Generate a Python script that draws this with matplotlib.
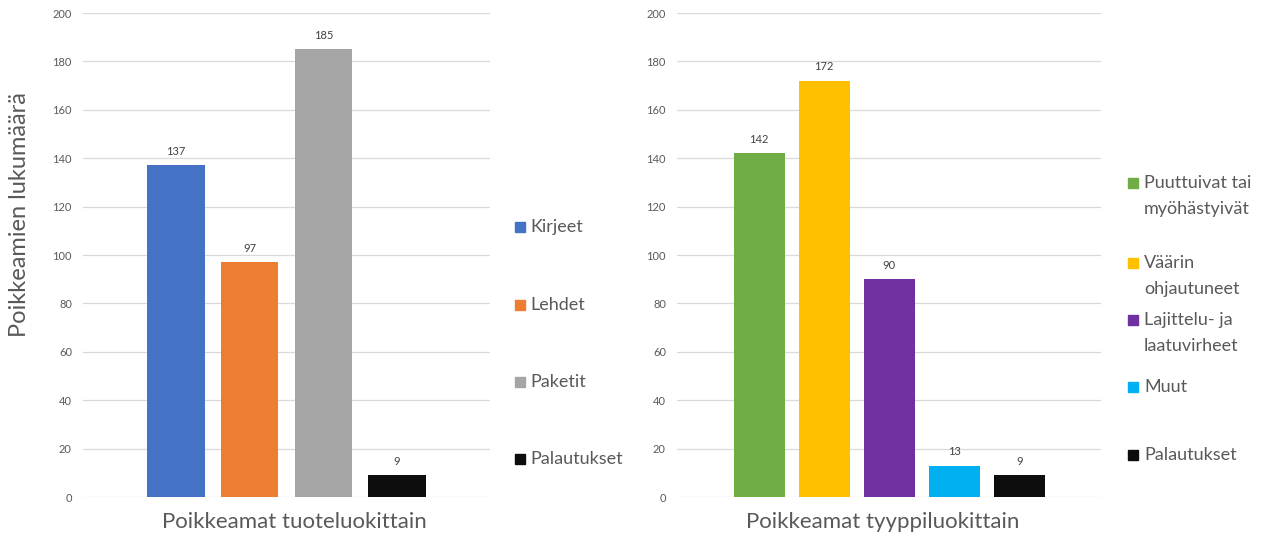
import matplotlib
matplotlib.use("Agg")
import matplotlib.pyplot as plt
from matplotlib.patches import Rectangle

plt.rcParams['font.family'] = ['Lato', 'DejaVu Sans']

# ---- data ----
left_categories = ["Kirjeet", "Lehdet", "Paketit", "Palautukset"]
left_values = [137, 97, 185, 9]
left_colors = ["#4472C4", "#ED7D31", "#A5A5A5", "#0D0D0D"]

right_categories = ["Puuttuivat tai\nmyöhästyivät", "Väärin\nohjautuneet",
                    "Lajittelu- ja\nlaatuvirheet", "Muut", "Palautukset"]
right_values = [142, 172, 90, 13, 9]
right_colors = ["#70AD47", "#FFC000", "#7030A0", "#00B0F0", "#0D0D0D"]

yticks = [0, 20, 40, 60, 80, 100, 120, 140, 160, 180, 200]
ylabel = "Poikkeamien lukumäärä"
left_title = "Poikkeamat tuoteluokittain"
right_title = "Poikkeamat tyyppiluokittain"

W, H = 1263, 537
fig = plt.figure(figsize=(W / 100, H / 100), dpi=100)
TXT = "#595959"


def fx(px):
    return px / W


def fy(py):
    return 1 - py / H


def setup(ax, lo, hi):
    ax.set_ylim(0, 200)
    ax.set_yticks(yticks)
    ax.set_xlim(lo, hi)
    ax.set_xticks([])
    ax.grid(axis="y", color="#D9D9D9", linewidth=0.9)
    ax.set_axisbelow(True)
    for s in ax.spines.values():
        s.set_visible(False)
    ax.tick_params(axis="y", length=0, pad=8, labelsize=8, labelcolor=TXT)


def bars(ax, values, colors, width):
    x = list(range(len(values)))
    rects = ax.bar(x, values, width=width, color=colors)
    for r, v in zip(rects, values):
        ax.annotate(str(v), (r.get_x() + r.get_width() / 2, v),
                    xytext=(0, 6), textcoords="offset points",
                    ha="center", va="bottom", fontsize=8, color="#404040")


# left axes
axL = fig.add_axes([fx(83), fy(497), fx(490 - 83), (497 - 13) / H])
setup(axL, -1.26, 4.26)
bars(axL, left_values, left_colors, 0.78)

# right axes
axR = fig.add_axes([fx(677), fy(497), fx(1101 - 677), (497 - 13) / H])
setup(axR, -1.26, 5.25)
bars(axR, right_values, right_colors, 0.785)

# titles
fig.text(fx(20), fy(215), ylabel, rotation=90, ha="center", va="center",
         fontsize=17, color=TXT)
fig.text(fx(294), fy(522), left_title, ha="center", va="center",
         fontsize=16, color=TXT)
fig.text(fx(883), fy(522), right_title, ha="center", va="center",
         fontsize=16, color=TXT)

# legends
def legend(entries, colors, sq_x, txt_x, ys, line_h=26):
    for lab, c, y in zip(entries, colors, ys):
        fig.add_artist(Rectangle((fx(sq_x), fy(y + 5)), fx(10), 10 / H,
                                 transform=fig.transFigure, color=c))
        lines = lab.split("\n")
        for i, ln in enumerate(lines):
            fig.text(fx(txt_x), fy(y + i * line_h), ln, ha="left",
                     va="center", fontsize=13, color=TXT)


legend(left_categories, left_colors, 515, 530, [227, 305, 382, 459])
legend(right_categories, right_colors, 1128, 1144, [183, 263, 320, 387, 455])

fig.savefig("out.png", dpi=100)
